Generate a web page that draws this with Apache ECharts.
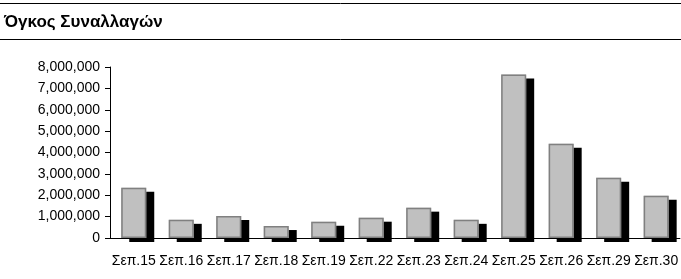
<!DOCTYPE html>
<html>
<head>
    <meta charset="utf-8">
    <title>Όγκος Συναλλαγών</title>
    <style>
        html, body { margin: 0; padding: 0; background: #fff; }
    </style>
</head>
<body>
    <div id="main" style="width: 681px; height: 279px;"></div>
    <script src="https://cdn.jsdelivr.net/npm/echarts@6/dist/echarts.min.js"></script>
    <script type="text/javascript">
        // categories and values
        var days = ['Σεπ.15', 'Σεπ.16', 'Σεπ.17', 'Σεπ.18', 'Σεπ.19', 'Σεπ.22',
                    'Σεπ.23', 'Σεπ.24', 'Σεπ.25', 'Σεπ.26', 'Σεπ.29', 'Σεπ.30'];
        var volume = [2350000, 850000, 1030000, 560000, 760000, 950000,
                      1420000, 850000, 7650000, 4410000, 2820000, 1980000];
        var yTicks = [0, 1000000, 2000000, 3000000, 4000000, 5000000, 6000000, 7000000, 8000000];

        var chartDom = document.getElementById('main');
        var myChart = echarts.init(chartDom);

        var option = {
            animation: false,
            textStyle: { fontFamily: 'Liberation Sans, Arial, sans-serif' },
            title: {
                text: 'Όγκος Συναλλαγών',
                left: 0,
                top: 14,
                padding: [0, 4],
                textStyle: { fontSize: 17, fontWeight: 'bold', color: '#000' }
            },
            graphic: [
                { type: 'line', shape: { x1: 0, y1: 3.5, x2: 681, y2: 3.5 }, style: { stroke: '#000', lineWidth: 1 } },
                { type: 'line', shape: { x1: 0, y1: 39.5, x2: 681, y2: 39.5 }, style: { stroke: '#000', lineWidth: 1 } }
            ],
            grid: { left: 110, top: 67, width: 574, bottom: 41 },
            xAxis: {
                type: 'category',
                data: days,
                axisLine: { lineStyle: { color: '#000', width: 1 } },
                axisTick: { length: 4, lineStyle: { color: '#000' } },
                axisLabel: { color: '#000', fontSize: 14, margin: 16, interval: 0 }
            },
            yAxis: {
                type: 'value',
                min: yTicks[0],
                max: yTicks[yTicks.length - 1],
                interval: yTicks[1] - yTicks[0],
                axisLine: { show: true, lineStyle: { color: '#000', width: 1 } },
                axisTick: { show: true, length: 5, lineStyle: { color: '#000' } },
                splitLine: { show: false },
                axisLabel: {
                    color: '#000',
                    fontSize: 14,
                    margin: 10,
                    formatter: function (v) { return v.toLocaleString('en-US'); }
                }
            },
            series: [
                {
                    // gray fill casting the black offset shadow
                    type: 'bar',
                    data: volume,
                    barWidth: 25,
                    itemStyle: {
                        color: '#c0c0c0',
                        shadowColor: '#000',
                        shadowBlur: 0,
                        shadowOffsetX: 8,
                        shadowOffsetY: 4
                    }
                },
                {
                    // outline on top, same bars
                    type: 'bar',
                    data: volume,
                    barWidth: 25,
                    barGap: '-100%',
                    itemStyle: {
                        color: 'rgba(0,0,0,0)',
                        borderColor: '#808080',
                        borderWidth: 1.5
                    }
                }
            ]
        };

        myChart.setOption(option);
    </script>
</body>
</html>
